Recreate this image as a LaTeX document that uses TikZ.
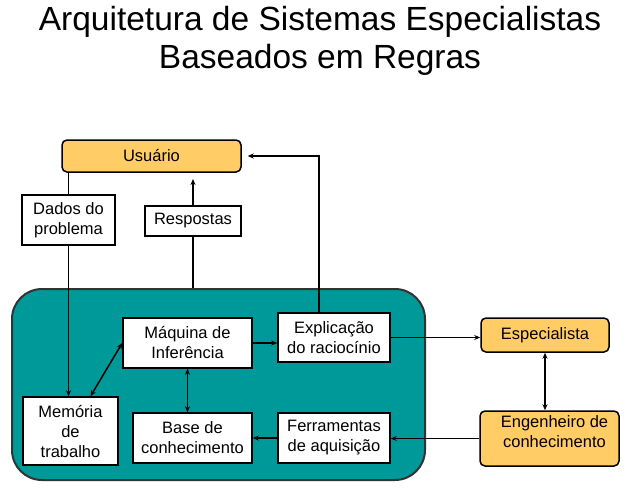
\documentclass[tikz,border=0pt]{standalone}
\usepackage{fontspec}
\setmainfont{Liberation Sans}
\usetikzlibrary{arrows.meta,calc}
\definecolor{orangefill}{HTML}{FFCC66}
\definecolor{tealfill}{HTML}{009999}
\begin{document}
\begin{tikzpicture}[x=1pt,y=-1pt,
  box/.style={draw=black,line width=1.5pt,fill=white,inner sep=0pt,align=center,
    font=\fontsize{16.5}{20}\selectfont},
  obox/.style={box,fill=orangefill,rounded corners=5pt},
  core/.style={draw=black!80,line width=2pt,fill=tealfill,rounded corners=30pt},
  conn/.style={line width=1.5pt},
  arr/.style={conn,-{Stealth[length=6pt,width=5pt]}},
  darr/.style={conn,{Stealth[length=6pt,width=5pt]}-{Stealth[length=6pt,width=5pt]}}
]
\useasboundingbox (0,0) rectangle (632,490);
\node[align=center,font=\fontsize{33.5}{38}\selectfont] (title) at (320,41)
  {Arquitetura de Sistemas Especialistas\\Baseados em Regras};
\node[core,minimum width=413pt,minimum height=191pt] (core) at (218.5,384.5) {};
\node[obox,minimum width=179pt,minimum height=32pt] (usuario) at (151.5,156) {Usuário};
\node[box,minimum width=93pt,minimum height=50pt] (dados) at (68.5,220) {Dados do\\problema};
\node[box,minimum width=96pt,minimum height=30pt] (resp) at (193,221) {Respostas};
\node[box,minimum width=129pt,minimum height=50pt] (maq) at (187.5,343) {Máquina de\\Inferência};
\node[box,minimum width=112pt,minimum height=49pt] (expl) at (334,337.5) {Explicação\\do raciocínio};
\node[box,minimum width=95pt,minimum height=68pt] (mem) at (70.5,431) {Memória\\de\\trabalho};
\node[box,minimum width=119pt,minimum height=50pt] (base) at (192.5,438) {Base de\\conhecimento};
\node[box,minimum width=112pt,minimum height=50pt] (ferr) at (334,438) {Ferramentas\\de aquisição};
\node[obox,minimum width=128pt,minimum height=34pt] (esp) at (545,335) {Especialista};
\node[obox,minimum width=139pt,minimum height=55pt] (eng) at (549.5,438.5) {};
\node[align=center,inner sep=0pt,font=\fontsize{16.5}{20}\selectfont] (engtext) at (554.5,432) {Engenheiro de\\conhecimento};
\coordinate (resptip) at (193,179);
% connectors
\draw[conn] (dados.north) -- (dados.north |- usuario.south);
\draw[arr] (dados.south) -- (dados.south |- mem.north);
\draw[conn] (resp.south) -- (resp.south |- core.north);
\draw[arr] (resp.north) -- (resptip);
\draw[arr,shorten >=6pt] ($(expl.north)+(-15,0)$) |- (usuario.east);
\draw[arr] (maq.east) -- (maq.east -| expl.west);
\draw[darr] (maq.south) -- (maq.south |- base.north);
\draw[darr] ($(mem.north)+(20,0)$) -- (maq.west);
\draw[arr] (ferr.west) -- (base.east);
\draw[arr] (expl.east) -- (expl.east -| esp.west);
\draw[arr] (eng.west) -- (eng.west -| ferr.east);
\draw[darr] (esp.south) -- (esp.south |- eng.north);
\end{tikzpicture}
\end{document}
